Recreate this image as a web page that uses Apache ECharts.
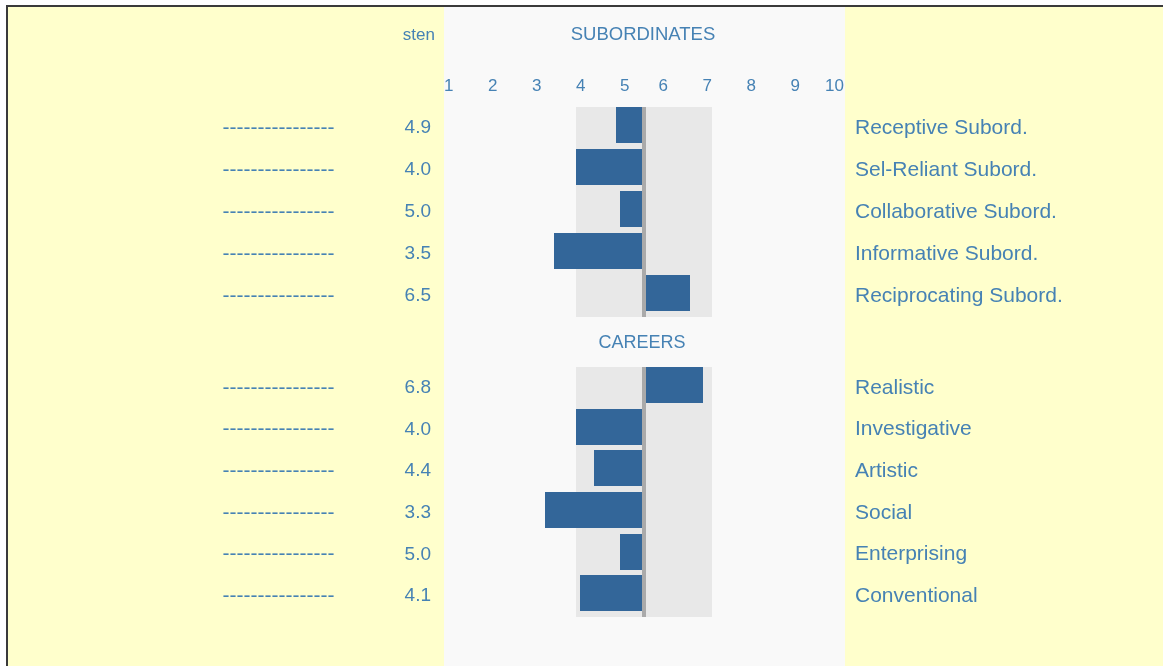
<!DOCTYPE html>
<html>
<head>
<meta charset="utf-8">
<script src="https://cdn.jsdelivr.net/npm/echarts@6/dist/echarts.min.js"></script>
<style>
html,body{margin:0;padding:0;background:#ffffff;}
#chart{width:1163px;height:666px;}
</style>
</head>
<body>
<div id="chart"></div>
<script>
// ---- data ----
const subCategories = ['Receptive Subord.', 'Sel-Reliant Subord.', 'Collaborative Subord.', 'Informative Subord.', 'Reciprocating Subord.'];
const subValues = [4.9, 4.0, 5.0, 3.5, 6.5];
const careerCategories = ['Realistic', 'Investigative', 'Artistic', 'Social', 'Enterprising', 'Conventional'];
const careerValues = [6.8, 4.0, 4.4, 3.3, 5.0, 4.1];
const tickValues = [1, 2, 3, 4, 5, 6, 7, 8, 9, 10];
const meanSten = 5.5;
const normalBand = [4, 7];
const groupTitles = ['SUBORDINATES', 'CAREERS'];
const stenLabel = 'sten';
const dashText = '----------------';

// ---- style ----
const FONT = "'Liberation Sans', Arial, sans-serif";
const TEXT = '#4682B4';
const BAR = '#336699';
const BAND = '#E8E8E8';
const MEANLINE = '#AAAAAA';
const GAP = 4;
const BAR_H = 36;

const chart = echarts.init(document.getElementById('chart'), null, {renderer: 'canvas'});

function renderRow(params, api) {
  const v = api.value(0);
  const cat = api.value(1);
  const c = api.coord([meanSten, cat]);
  const bandH = api.size([0, 1])[1];
  const top = Math.round(c[1] - bandH / 2);
  const bottom = Math.round(c[1] + bandH / 2);
  const xm = Math.round(c[0]);
  const xLo = Math.round(api.coord([normalBand[0], cat])[0]);
  const xHi = Math.round(api.coord([normalBand[1], cat])[0]) + GAP;
  const xv = Math.round(api.coord([v, cat])[0]);
  const children = [
    {type: 'rect', shape: {x: xLo, y: top, width: xHi - xLo, height: bottom - top}, style: {fill: BAND}}
  ];
  if (v < meanSten) {
    children.push({type: 'rect', shape: {x: xv, y: top, width: xm - xv, height: BAR_H}, style: {fill: BAR}});
  } else if (v > meanSten) {
    children.push({type: 'rect', shape: {x: xm + GAP, y: top, width: xv - xm, height: BAR_H}, style: {fill: BAR}});
  }
  children.push({type: 'rect', shape: {x: xm, y: top, width: GAP, height: bottom - top}, style: {fill: MEANLINE}});
  return {type: 'group', children: children};
}

function leftAxis(gridIndex, cats, vals) {
  return {
    type: 'category', gridIndex: gridIndex, data: cats, inverse: true, position: 'left',
    axisLine: {show: false}, axisTick: {show: false}, splitLine: {show: false},
    axisLabel: {
      interval: 0, margin: 13, color: TEXT, fontFamily: FONT, fontSize: 19,
      formatter: function (name, idx) { return '{d|' + dashText + '}{v|' + vals[idx].toFixed(1) + '}'; },
      rich: {
        d: {width: 182, align: 'left', fontSize: 21, color: TEXT, fontFamily: FONT},
        v: {fontSize: 19, color: TEXT, fontFamily: FONT}
      }
    }
  };
}
function rightAxis(gridIndex, cats) {
  return {
    type: 'category', gridIndex: gridIndex, data: cats, inverse: true, position: 'right',
    axisLine: {show: false}, axisTick: {show: false}, splitLine: {show: false},
    axisLabel: {interval: 0, margin: 15, color: TEXT, fontFamily: FONT, fontSize: 21, align: 'left'}
  };
}
function valueAxis(gridIndex, showFn, align) {
  return {
    type: 'value', gridIndex: gridIndex, min: tickValues[0], max: tickValues[tickValues.length - 1], interval: 1,
    position: 'top',
    axisLine: {show: false}, axisTick: {show: false}, splitLine: {show: false},
    axisLabel: {
      show: !!showFn, margin: 12, color: TEXT, fontFamily: FONT, fontSize: 17, align: align || 'center',
      showMinLabel: true, showMaxLabel: true,
      formatter: function (v) { return showFn && showFn(v) ? String(v) : ''; }
    }
  };
}

const option = {
  backgroundColor: '#ffffff',
  animation: false,
  graphic: [
    {type: 'rect', z: -10, shape: {x: 7, y: 6, width: 1200, height: 700}, style: {fill: '#FFFFCC', stroke: '#3a3a3a', lineWidth: 2}},
    {type: 'rect', z: -9, shape: {x: 444, y: 7, width: 401, height: 660}, style: {fill: '#F9F9F9'}},
    {type: 'text', z: 10, x: 435, y: 35, style: {text: stenLabel, align: 'right', verticalAlign: 'middle', fill: TEXT, font: '17px ' + FONT}},
    {type: 'text', z: 10, x: 643, y: 35, style: {text: groupTitles[0], align: 'center', verticalAlign: 'middle', fill: TEXT, font: '18.5px ' + FONT}},
    {type: 'text', z: 10, x: 642, y: 343, style: {text: groupTitles[1], align: 'center', verticalAlign: 'middle', fill: TEXT, font: '18px ' + FONT}}
  ],
  grid: [
    {left: 444, right: 323, top: 107, height: 210},
    {left: 444, right: 323, top: 367, height: 250},
    {left: 444 + GAP, right: 323 - GAP, top: 107, height: 210}
  ],
  xAxis: [
    valueAxis(0, function (v) { return v < meanSten; }, 'left'),
    valueAxis(1, null),
    valueAxis(2, function (v) { return v > meanSten; }, 'right')
  ],
  yAxis: [
    leftAxis(0, subCategories, subValues),
    rightAxis(0, subCategories),
    leftAxis(1, careerCategories, careerValues),
    rightAxis(1, careerCategories),
    {type: 'value', gridIndex: 2, show: false}
  ],
  series: [
    {
      type: 'custom', xAxisIndex: 0, yAxisIndex: 0, renderItem: renderRow,
      encode: {x: 0, y: 1},
      data: subValues.map(function (v, i) { return [v, i]; })
    },
    {
      type: 'custom', xAxisIndex: 1, yAxisIndex: 2, renderItem: renderRow,
      encode: {x: 0, y: 1},
      data: careerValues.map(function (v, i) { return [v, i]; })
    }
  ]
};
chart.setOption(option);
</script>
</body>
</html>
